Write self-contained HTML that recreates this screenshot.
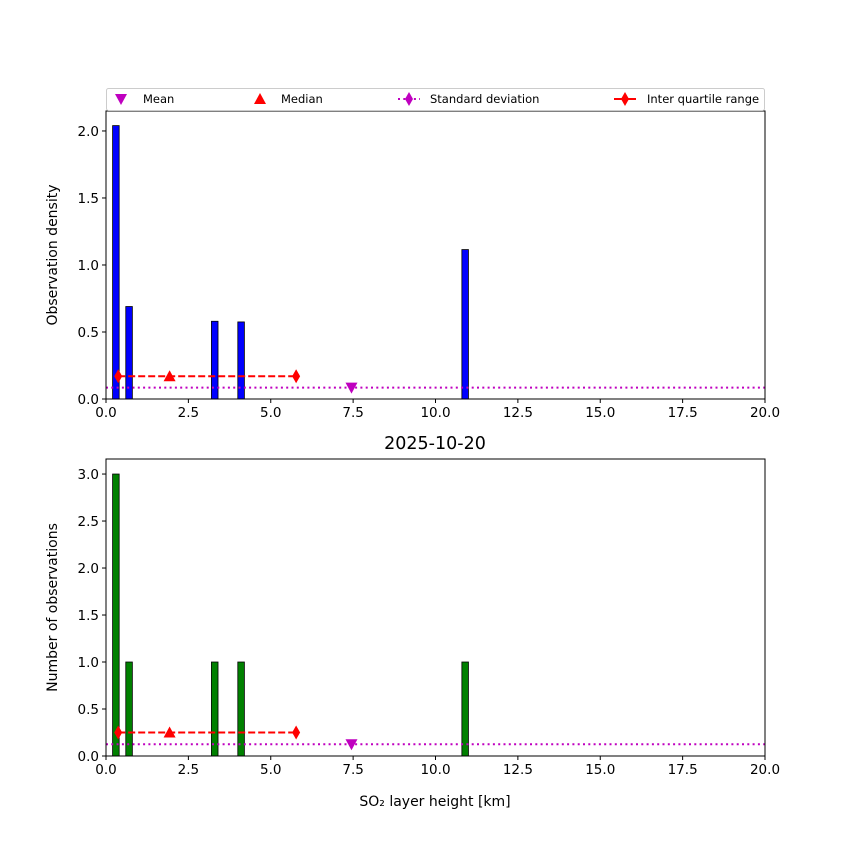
<!DOCTYPE html>
<html><head><meta charset="utf-8"><style>
body{margin:0;background:#fff}
svg text{font-family:"DejaVu Sans","Liberation Sans",sans-serif;fill:#000}
</style></head><body>
<svg id="chart" width="850" height="850" xmlns="http://www.w3.org/2000/svg"></svg>
<script>
const binStarts=[0.2,0.6,3.2,4.0,10.8];
const binWidth=0.2;
const densityValues=[2.04,0.69,0.58,0.575,1.115];
const countValues=[3,1,1,1,1];
const xTicks=[0,2.5,5,7.5,10,12.5,15,17.5,20];
const xTickLabels=["0.0","2.5","5.0","7.5","10.0","12.5","15.0","17.5","20.0"];
const topYTicks=[0,0.5,1,1.5,2];
const topYTickLabels=["0.0","0.5","1.0","1.5","2.0"];
const botYTicks=[0,0.5,1,1.5,2,2.5,3];
const botYTickLabels=["0.0","0.5","1.0","1.5","2.0","2.5","3.0"];
const meanVal=7.45, medianVal=1.93, iqrLow=0.37, iqrHigh=5.77;
const topMarkerY=0.17, topMeanY=0.085, botMarkerY=0.25, botMeanY=0.125;

const NS="http://www.w3.org/2000/svg";
const svg=document.getElementById('chart');
function el(tag,attrs,parent,text){const e=document.createElementNS(NS,tag);for(const k in attrs)e.setAttribute(k,attrs[k]);if(text!==undefined)e.textContent=text;(parent||svg).appendChild(e);return e;}
const X0=106,X1=765;
const xs=v=>X0+(v/20)*(X1-X0);

function panel(name,top,bottom,ymax,yTicks,yLabels,values,color,ylabel,markerY,meanY){
  const g=el('g',{});
  
  
  const ys=v=>bottom-(v/ymax)*(bottom-top);
  values.forEach((v,i)=>{
    const r=el('rect',{x:xs(binStarts[i]),y:ys(v),width:xs(binWidth)-X0,height:bottom-ys(v),fill:color,stroke:'#000','stroke-width':0.8},g);
    
    
  });
  const sd=el('line',{x1:X0,x2:X1,y1:ys(meanY),y2:ys(meanY),stroke:'#bf00bf','stroke-width':2,'stroke-dasharray':'2,3.3'},g);
  
  
  const iq=el('line',{x1:xs(iqrLow),x2:xs(iqrHigh),y1:ys(markerY),y2:ys(markerY),stroke:'#f00','stroke-width':2,'stroke-dasharray':'7,3'},g);
  
  
  [iqrLow,iqrHigh].forEach(v=>{const cx=xs(v),cy=ys(markerY);
    const d=el('polygon',{points:`${cx},${cy-7} ${cx+4},${cy} ${cx},${cy+7} ${cx-4},${cy}`,fill:'#f00'},g);
    
    });
  {const cx=xs(medianVal),cy=ys(markerY);
    const t=el('polygon',{points:`${cx},${cy-6} ${cx+6},${cy+5} ${cx-6},${cy+5}`,fill:'#f00'},g);
    
    }
  {const cx=xs(meanVal),cy=ys(meanY);
    const t=el('polygon',{points:`${cx-6},${cy-5} ${cx+6},${cy-5} ${cx},${cy+6}`,fill:'#bf00bf'},g);
    
    }
  el('rect',{x:X0,y:top,width:X1-X0,height:bottom-top,fill:'none',stroke:'#000','stroke-width':1},g);
  xTicks.forEach((v,i)=>{el('line',{x1:xs(v),x2:xs(v),y1:bottom,y2:bottom+4,stroke:'#000'},g);
    const t=el('text',{x:xs(v),y:bottom+18,'text-anchor':'middle','font-size':13.5},g,xTickLabels[i]);
    
    });
  yTicks.forEach((v,i)=>{el('line',{x1:X0-4,x2:X0,y1:ys(v),y2:ys(v),stroke:'#000'},g);
    const t=el('text',{x:X0-7,y:ys(v)+5,'text-anchor':'end','font-size':13.5},g,yLabels[i]);
    
    });
  const yl=el('text',{x:0,y:0,'text-anchor':'middle','font-size':14,transform:`translate(57,${(top+bottom)/2}) rotate(-90)`},g,ylabel);
  
  
}
panel('density-panel',111,399,2.149,topYTicks,topYTickLabels,densityValues,'#0000ff','Observation density',topMarkerY,topMeanY);
panel('count-panel',459,756,3.16,botYTicks,botYTickLabels,countValues,'#008000','Number of observations',botMarkerY,botMeanY);

const title=el('text',{x:435,y:449,'text-anchor':'middle','font-size':17.5},svg,'2025-10-20');


const xl=el('text',{x:435,y:806,'text-anchor':'middle','font-size':14},svg,'SO₂ layer height [km]');



const lg=el('g',{});


el('rect',{x:106.5,y:88.5,width:658,height:22,rx:2,fill:'#fff',stroke:'#ccc'},lg);
const ly=99;
el('polygon',{points:`115,${ly-5} 127,${ly-5} 121,${ly+6}`,fill:'#bf00bf'},lg);
el('polygon',{points:`260,${ly-6} 266,${ly+5} 254,${ly+5}`,fill:'#f00'},lg);
el('line',{x1:398,x2:420,y1:ly,y2:ly,stroke:'#bf00bf','stroke-width':2,'stroke-dasharray':'2,3.3'},lg);
el('polygon',{points:`409,${ly-7} 413,${ly} 409,${ly+7} 405,${ly}`,fill:'#bf00bf'},lg);
el('line',{x1:614,x2:636,y1:ly,y2:ly,stroke:'#f00','stroke-width':2},lg);
el('polygon',{points:`625,${ly-7} 629,${ly} 625,${ly+7} 621,${ly}`,fill:'#f00'},lg);
[['Mean',143],['Median',281],['Standard deviation',430],['Inter quartile range',647]].forEach(([t,x])=>{
  const e=el('text',{x:x,y:ly+4,'font-size':11.5},lg,t);
  
  
});
</script>
</body></html>
